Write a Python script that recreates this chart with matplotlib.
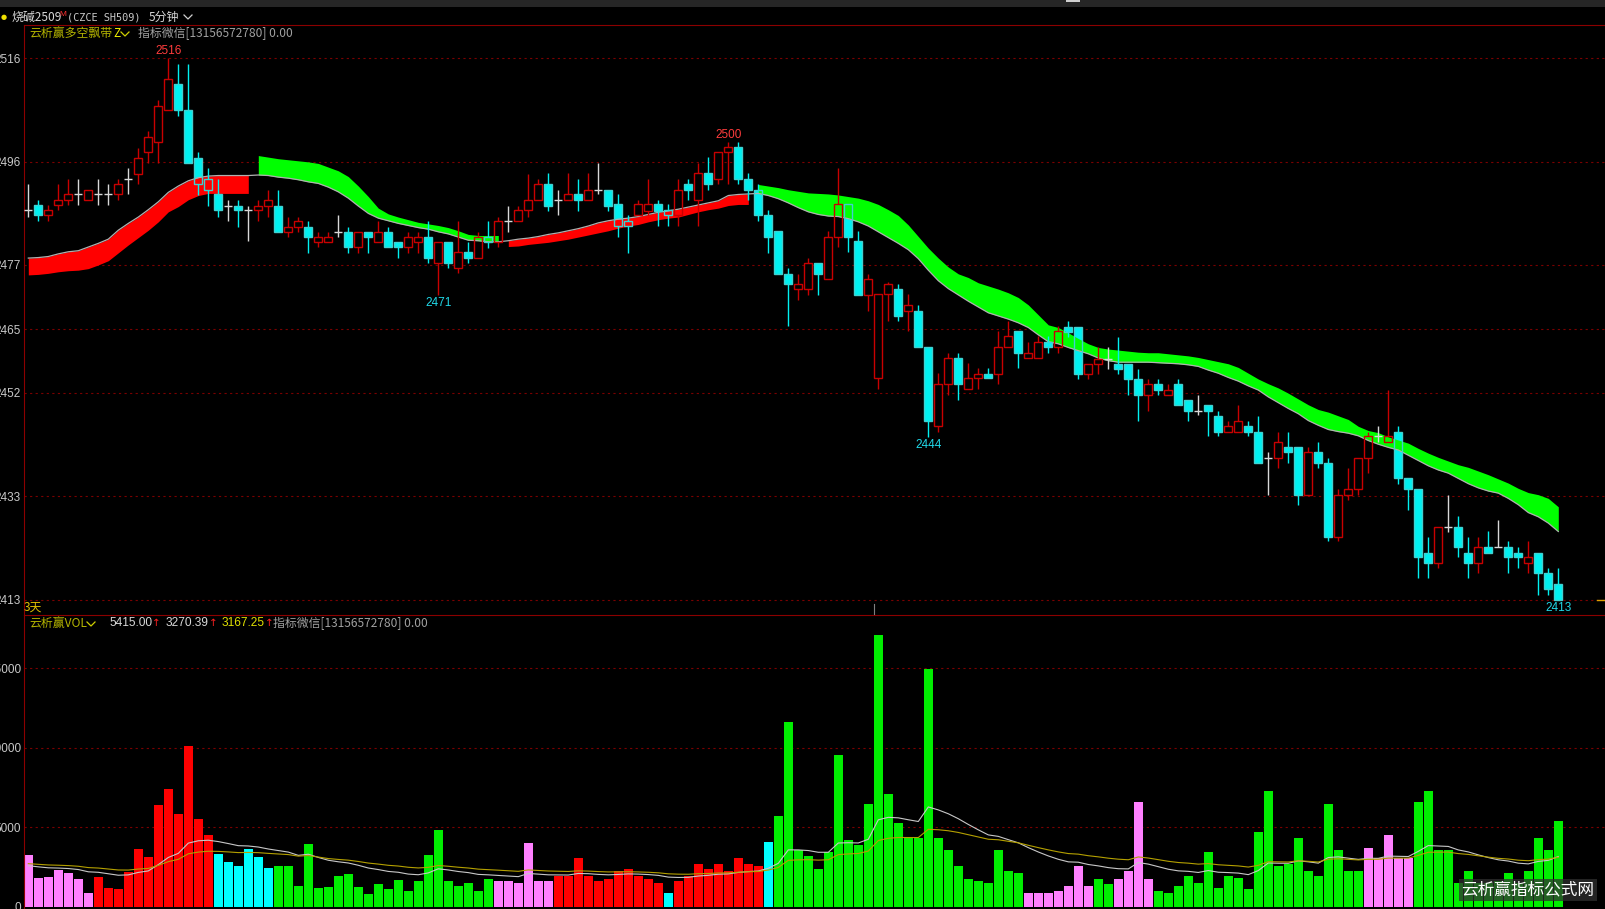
import matplotlib
matplotlib.use("Agg")
import matplotlib.pyplot as plt
from matplotlib.lines import Line2D
from matplotlib.patches import Rectangle
import numpy as np
import pandas as pd

# ---- data ----
opens = [2487.1, 2488.1, 2486.1, 2488.1, 2489.1, 2490.2, 2489.1, 2490.2, 2490.2, 2490.2,
         2493.0, 2494.0, 2498.1, 2500.0, 2506.1, 2511.1, 2506.1, 2497.1, 2493.0, 2490.2,
         2488.0, 2488.0, 2487.1, 2487.1, 2488.0, 2488.0, 2483.0, 2484.0, 2484.0, 2481.1,
         2481.1, 2483.0, 2483.0, 2480.1, 2483.0, 2481.1, 2483.0, 2481.1, 2480.1, 2481.1,
         2482.0, 2477.1, 2481.1, 2476.1, 2479.2, 2478.0, 2482.1, 2481.1, 2485.0, 2485.0,
         2487.1, 2489.1, 2492.1, 2489.1, 2489.1, 2490.2, 2489.1, 2491.0, 2491.0, 2488.2,
         2485.1, 2486.1, 2487.0, 2488.2, 2487.2, 2486.1, 2492.1, 2489.1, 2494.2, 2493.1,
         2498.2, 2499.1, 2493.1, 2491.0, 2486.1, 2483.1, 2475.0, 2472.1, 2472.1, 2477.1,
         2474.0, 2482.0, 2488.2, 2481.2, 2471.0, 2455.2, 2471.2, 2472.1, 2468.0, 2468.0,
         2461.1, 2446.1, 2454.1, 2459.0, 2453.1, 2455.2, 2456.0, 2456.0, 2461.1, 2464.1,
         2459.0, 2459.0, 2462.0, 2461.1, 2464.9, 2464.9, 2455.9, 2457.9, 2458.9, 2457.9,
         2457.9, 2455.0, 2451.9, 2454.0, 2451.9, 2454.0, 2451.0, 2449.0, 2450.0, 2447.9,
         2445.0, 2445.0, 2446.0, 2445.0, 2439.9, 2439.9, 2442.0, 2442.0, 2432.9, 2441.1,
         2439.0, 2425.0, 2432.9, 2434.0, 2439.9, 2444.1, 2443.1, 2445.0, 2436.1, 2434.0,
         2422.0, 2420.1, 2426.9, 2426.9, 2422.0, 2420.1, 2423.0, 2423.0, 2423.0, 2422.0,
         2420.1, 2422.0, 2418.1, 2416.0]
highs = [2492.0, 2489.1, 2488.1, 2492.0, 2493.0, 2493.0, 2491.0, 2493.0, 2492.0, 2493.0,
         2495.1, 2499.0, 2502.1, 2508.0, 2516.0, 2515.0, 2515.0, 2498.2, 2495.1, 2493.0,
         2489.1, 2489.1, 2488.0, 2489.1, 2491.0, 2491.0, 2485.9, 2485.9, 2485.0, 2483.0,
         2483.0, 2486.1, 2484.0, 2483.0, 2483.0, 2485.0, 2484.0, 2481.1, 2483.0, 2483.0,
         2485.0, 2481.1, 2481.1, 2485.0, 2481.1, 2483.0, 2485.1, 2485.9, 2488.0, 2488.0,
         2494.0, 2493.0, 2494.2, 2491.0, 2494.2, 2493.1, 2494.2, 2496.1, 2491.0, 2490.2,
         2486.1, 2489.1, 2493.1, 2489.1, 2488.2, 2493.1, 2493.1, 2496.1, 2497.3, 2498.2,
         2500.0, 2500.0, 2494.2, 2492.1, 2487.2, 2483.1, 2476.1, 2475.0, 2478.1, 2477.1,
         2483.1, 2495.2, 2488.2, 2483.1, 2475.0, 2471.2, 2473.5, 2473.1, 2471.2, 2469.0,
         2461.1, 2456.1, 2460.0, 2460.0, 2458.0, 2457.1, 2457.1, 2464.1, 2466.0, 2464.1,
         2462.1, 2463.1, 2463.1, 2465.0, 2466.0, 2464.9, 2457.9, 2461.1, 2461.1, 2463.0,
         2457.9, 2457.0, 2455.0, 2455.0, 2454.0, 2455.0, 2451.0, 2451.9, 2450.0, 2449.0,
         2447.1, 2450.0, 2447.1, 2447.9, 2441.1, 2445.0, 2445.0, 2442.0, 2442.0, 2443.1,
         2439.9, 2434.0, 2438.0, 2439.9, 2445.0, 2446.0, 2453.0, 2446.0, 2436.1, 2434.0,
         2425.0, 2426.9, 2432.9, 2429.0, 2425.0, 2425.0, 2426.1, 2428.2, 2424.1, 2423.0,
         2424.1, 2422.0, 2419.0, 2419.0]
lows = [2485.9, 2485.0, 2485.0, 2487.1, 2488.1, 2488.1, 2489.1, 2488.1, 2488.1, 2489.1,
        2490.2, 2492.0, 2496.0, 2496.0, 2506.1, 2505.0, 2496.0, 2490.0, 2488.0, 2485.9,
        2485.0, 2484.0, 2481.2, 2485.0, 2485.9, 2483.0, 2482.0, 2483.0, 2479.0, 2480.1,
        2481.1, 2482.0, 2479.0, 2479.0, 2479.0, 2481.1, 2480.1, 2478.0, 2479.0, 2479.0,
        2477.1, 2471.0, 2476.1, 2475.2, 2477.1, 2478.0, 2480.0, 2480.1, 2483.0, 2485.0,
        2485.9, 2489.1, 2487.0, 2486.1, 2489.1, 2487.0, 2489.1, 2490.1, 2487.0, 2482.0,
        2479.0, 2486.1, 2486.1, 2484.1, 2484.1, 2484.1, 2489.1, 2484.1, 2491.0, 2492.1,
        2492.1, 2492.1, 2489.1, 2485.1, 2479.0, 2475.0, 2465.0, 2470.1, 2471.0, 2471.0,
        2474.0, 2480.1, 2479.1, 2471.0, 2468.0, 2453.1, 2466.0, 2466.0, 2464.1, 2461.1,
        2444.0, 2445.0, 2452.0, 2451.0, 2453.1, 2453.1, 2455.2, 2454.1, 2461.1, 2457.1,
        2459.0, 2459.0, 2460.0, 2460.0, 2463.0, 2455.0, 2455.0, 2455.9, 2457.0, 2455.9,
        2451.9, 2447.1, 2449.0, 2451.9, 2451.9, 2450.0, 2447.1, 2448.1, 2444.1, 2444.1,
        2445.0, 2445.0, 2444.1, 2439.0, 2432.9, 2438.0, 2439.0, 2431.0, 2432.9, 2438.0,
        2424.1, 2424.1, 2432.0, 2432.9, 2437.1, 2443.1, 2443.1, 2435.1, 2430.1, 2417.1,
        2417.1, 2419.0, 2426.0, 2421.1, 2417.1, 2418.1, 2422.0, 2423.0, 2418.1, 2419.0,
        2418.1, 2413.9, 2413.9, 2413.0]
closes = [2487.1, 2486.1, 2487.1, 2489.1, 2490.2, 2490.2, 2491.0, 2490.2, 2490.2, 2492.0,
          2493.0, 2497.1, 2501.0, 2507.0, 2512.0, 2506.1, 2496.0, 2492.0, 2491.0, 2487.1,
          2488.0, 2487.1, 2487.1, 2488.0, 2489.1, 2483.0, 2484.0, 2485.0, 2482.0, 2482.0,
          2482.0, 2483.0, 2480.1, 2483.0, 2482.0, 2483.0, 2480.1, 2480.1, 2482.0, 2482.0,
          2478.0, 2481.1, 2477.1, 2479.2, 2478.0, 2482.0, 2481.1, 2485.0, 2485.0, 2487.1,
          2489.1, 2492.0, 2488.0, 2489.1, 2490.2, 2489.1, 2491.0, 2491.0, 2488.0, 2484.1,
          2484.1, 2488.2, 2488.2, 2487.0, 2486.1, 2491.0, 2491.0, 2494.2, 2492.1, 2498.2,
          2499.1, 2493.1, 2491.0, 2486.1, 2482.0, 2475.0, 2473.1, 2473.1, 2477.1, 2475.0,
          2482.0, 2488.2, 2482.0, 2471.0, 2474.0, 2471.2, 2473.1, 2467.0, 2469.0, 2461.1,
          2447.1, 2454.1, 2459.0, 2454.1, 2455.2, 2456.0, 2455.2, 2461.1, 2463.1, 2460.0,
          2460.0, 2462.0, 2461.1, 2464.1, 2464.0, 2455.9, 2457.9, 2458.9, 2458.9, 2457.0,
          2455.0, 2451.9, 2454.0, 2453.0, 2453.0, 2450.0, 2449.0, 2449.0, 2449.0, 2445.0,
          2446.0, 2447.1, 2445.0, 2439.0, 2439.9, 2443.1, 2441.1, 2432.9, 2441.1, 2439.0,
          2425.0, 2432.9, 2434.0, 2439.9, 2444.1, 2444.1, 2444.1, 2436.1, 2434.0, 2421.1,
          2420.1, 2426.9, 2426.9, 2423.0, 2420.1, 2423.0, 2422.0, 2423.0, 2421.1, 2421.1,
          2421.1, 2418.1, 2415.0, 2413.0]

# ribbon: grey centre line, outer edge, and state (r = long band, g = short band)
band_line = [2478.0, 2478.1, 2478.3, 2478.8, 2479.2, 2479.4, 2480.1, 2480.8, 2481.6, 2483.3,
             2484.6, 2485.8, 2487.2, 2488.7, 2490.5, 2491.7, 2492.7, 2493.3, 2493.6, 2493.7,
             2493.7, 2493.7, 2493.7, 2493.8, 2493.7, 2493.4, 2493.2, 2492.9, 2492.5, 2492.2,
             2491.5, 2490.6, 2489.4, 2487.9, 2486.5, 2485.6, 2485.1, 2484.6, 2484.2, 2483.8,
             2483.5, 2483.0, 2482.6, 2482.0, 2481.4, 2481.3, 2481.1, 2481.1, 2481.3, 2481.6,
             2481.8, 2482.1, 2482.5, 2482.8, 2483.2, 2483.6, 2484.1, 2484.7, 2485.1, 2485.4,
             2485.6, 2485.9, 2486.3, 2486.7, 2487.0, 2487.3, 2487.7, 2488.1, 2488.5, 2488.9,
             2489.9, 2490.1, 2490.2, 2490.3, 2489.9, 2489.3, 2488.5, 2487.6, 2486.8, 2486.3,
             2486.0, 2485.9, 2485.5, 2484.9, 2484.1, 2483.0, 2481.9, 2480.8, 2479.6, 2477.9,
             2475.7, 2473.7, 2472.2, 2471.0, 2469.8, 2468.7, 2467.6, 2467.0, 2466.4, 2465.7,
             2464.8, 2463.4, 2462.1, 2461.7, 2461.0, 2460.4, 2459.8, 2459.0, 2458.5, 2458.2,
             2458.2, 2458.2, 2458.2, 2458.1, 2458.0, 2457.9, 2457.7, 2457.4, 2456.7, 2456.1,
             2455.3, 2454.6, 2453.7, 2452.9, 2451.6, 2450.5, 2449.4, 2448.4, 2447.1, 2446.2,
             2445.4, 2445.0, 2444.7, 2444.2, 2443.3, 2442.6, 2442.0, 2441.5, 2440.5, 2439.5,
             2438.5, 2437.7, 2437.1, 2436.1, 2435.1, 2434.3, 2433.7, 2433.3, 2432.3, 2431.1,
             2429.6, 2428.8, 2427.6, 2426.0]
band_edge = [2474.8, 2474.9, 2475.1, 2475.4, 2475.6, 2475.7, 2476.0, 2476.7, 2477.5, 2479.0,
             2480.5, 2481.9, 2483.3, 2484.9, 2486.8, 2487.8, 2489.1, 2489.9, 2490.3, 2490.3,
             2490.3, 2490.3, 2490.3, 2497.5, 2497.2, 2496.9, 2496.7, 2496.5, 2496.3, 2496.0,
             2495.3, 2494.6, 2493.5, 2491.7, 2489.7, 2487.5, 2486.4, 2485.8, 2485.3, 2484.8,
             2484.5, 2484.2, 2483.8, 2483.2, 2482.5, 2482.3, 2482.3, 2482.3, 2480.2, 2480.3,
             2480.6, 2480.8, 2481.0, 2481.3, 2481.6, 2482.0, 2482.4, 2482.8, 2483.2, 2483.7,
             2484.1, 2484.4, 2484.9, 2485.3, 2485.6, 2485.8, 2486.3, 2486.8, 2487.2, 2487.5,
             2488.0, 2488.2, 2488.2, 2492.0, 2491.7, 2491.4, 2491.0, 2490.7, 2490.4, 2490.3,
             2490.2, 2490.0, 2489.7, 2489.4, 2488.9, 2488.2, 2487.2, 2486.1, 2484.3, 2482.1,
             2479.9, 2478.0, 2476.3, 2475.0, 2474.3, 2473.3, 2472.7, 2472.1, 2471.4, 2470.5,
             2469.1, 2467.2, 2465.3, 2464.8, 2463.8, 2462.7, 2461.7, 2461.0, 2460.7, 2460.5,
             2460.3, 2460.1, 2460.0, 2460.0, 2459.8, 2459.6, 2459.4, 2459.1, 2458.7, 2458.3,
             2457.9, 2457.2, 2456.1, 2455.0, 2454.1, 2453.3, 2452.3, 2451.2, 2450.1, 2449.2,
             2448.7, 2448.0, 2447.3, 2446.0, 2445.2, 2444.8, 2444.0, 2443.4, 2442.8, 2441.8,
             2440.9, 2440.1, 2439.4, 2438.7, 2438.2, 2437.5, 2436.8, 2436.0, 2435.2, 2434.2,
             2433.4, 2433.0, 2432.3, 2430.7]
band_state = "r" * 23 + "g" * 25 + "r" * 25 + "g" * 81

volumes = [3229, 1824, 1866, 2286, 2118, 1740, 839, 1866, 1195, 1111,
           2202, 3628, 3146, 6396, 7381, 5809, 10129, 5536, 4509, 3292,
           2789, 2579, 3628, 3125, 2454, 2579, 2537, 1279, 3963, 1195,
           1237, 1908, 2034, 1237, 797, 1405, 1111, 1657, 968, 1613,
           3225, 4838, 1613, 1290, 1484, 968, 1742, 1613, 1613, 1484,
           3999, 1613, 1613, 1935, 1935, 3032, 1935, 1613, 1742, 2258,
           2387, 1935, 1742, 1484, 839, 1613, 1935, 2709, 2387, 2709,
           2258, 3032, 2709, 2580, 4064, 5676, 11610, 3548, 3161, 2387,
           3419, 9546, 4193, 3870, 6450, 17093, 7095, 5289, 4322, 4322,
           14964, 4322, 3548, 2580, 1742, 1613, 1484, 3548, 2258, 2129,
           839, 839, 839, 968, 1290, 2580, 1290, 1742, 1419, 1742,
           2258, 6579, 1742, 968, 839, 1290, 1935, 1484, 3419, 1161,
           1935, 1806, 1097, 4709, 7289, 2580, 2709, 4322, 2258, 1935,
           6450, 3548, 2258, 2258, 3677, 3032, 4515, 3032, 3032, 6579,
           7289, 3548, 3548, 1484, 2258, 1484, 1484, 1613, 2129, 1484,
           2258, 4322, 3548, 5415]
vol_colors = ("p" * 7 + "r" * 12 + "c" * 6 + "g" * 22 + "p" * 6 + "r" * 11 + "c" + "r" * 9
              + "c" + "g" * 25 + "p" * 7 + "g" * 2 + "p" * 4 + "g" * 21 + "p" * 5 + "g" * 15)
# volume averages (EMA 20 / EMA 40), starting from the levels seen at the left edge
ma_spans = [20, 40]
ma_seeds = [2510, 2680]

price_ticks = [2516, 2496.3, 2476.7, 2464.5, 2452.4, 2432.7, 2413]
price_labels = ["2516", "2496", "2477", "2465", "2452", "2433", "2413"]
vol_ticks = [0, 5000, 10000, 15000]
vol_labels = ["0", "5000", "10000", "15000"]
high_marks = [14, 70]
low_marks = [41, 90, 153]

# ---- colours ----
BG = "black"
FRAME = "#8c0000"
GRID = "#7a0000"
UP = "#c80000"
DOWN = "#00f0f0"
DOWN_EDGE = "#40d0d0"
DOJI = "#d8d8d8"
BAND_R = "#ff0000"
BAND_G = "#00ff00"
VOL_C = {"p": "#ff80ff", "r": "#ff0000", "c": "#00ffff", "g": "#00ee00"}
CJK = ["Noto Sans CJK SC", "DejaVu Sans"]
NUM = ["Liberation Sans", "DejaVu Sans"]

W, H = 1605, 909


def fx(x):
    return x / W


def fy(y):
    return 1 - y / H


fig = plt.figure(figsize=(W / 100, H / 100), dpi=100, facecolor=BG)

# price panel spans y 25..615 px, volume panel 615..909 px
ax = fig.add_axes([fx(23.5), fy(615), 1 - fx(23.5), (615 - 25) / H], facecolor=BG)
axv = fig.add_axes([fx(23.5), 0, 1 - fx(23.5), (909 - 615) / H], facecolor=BG)

n = len(opens)
idx = np.arange(n)
o = np.array(opens)
c = np.array(closes)
hi = np.array(highs)
lo = np.array(lows)
body_lo = np.minimum(o, c)
body_hi = np.maximum(o, c)
edge_cols = [UP if cc > oo else (DOWN_EDGE if cc < oo else DOJI) for oo, cc in zip(o, c)]
wick_cols = [UP if cc > oo else (DOWN if cc < oo else DOJI) for oo, cc in zip(o, c)]
fill_cols = [DOWN if cc < oo else BG for oo, cc in zip(o, c)]

ax.bar(idx, body_hi - body_lo, bottom=body_lo, width=0.82, color=fill_cols, linewidth=0, zorder=2)

# ribbon
bl = np.array(band_line)
be = np.array(band_edge)
start = 0
for i in range(1, n + 1):
    if i == n or band_state[i] != band_state[start]:
        seg = slice(start, i)
        col = BAND_R if band_state[start] == "r" else BAND_G
        ax.fill_between(idx[seg], bl[seg], be[seg], color=col, linewidth=0, zorder=3)
        start = i
ax.plot(idx, bl, color="#b0b0b0", lw=0.9, zorder=3.5)

ax.bar(idx, body_hi - body_lo, bottom=body_lo, width=0.82, facecolor="none",
       edgecolor=edge_cols, linewidth=1.0, zorder=4)
ax.vlines(idx, body_hi, hi, colors=wick_cols, lw=1.0, zorder=4)
ax.vlines(idx, lo, body_lo, colors=wick_cols, lw=1.0, zorder=4)

for i in high_marks:
    ax.annotate(f"{highs[i]:.0f}", (i, highs[i]), xytext=(0, 5.4), textcoords="offset points",
                ha="center", va="center", color="#ff3c3c", fontsize=8.5, family=NUM, zorder=6)
for i in low_marks:
    ax.annotate(f"{lows[i]:.0f}", (i, lows[i]), xytext=(0, -5.6), textcoords="offset points",
                ha="center", va="center", color="#20d8e8", fontsize=8.5, family=NUM, zorder=6)

# price axis: 25px -> 2522.33, 615px -> 2410.12
ax.set_ylim(2410.12, 2522.33)
ax.set_xlim(-0.48, 157.67)
ax.set_yticks(price_ticks)
ax.set_yticklabels(price_labels)
for t in price_ticks:
    ax.axhline(t, color=GRID, lw=0.8, ls=(0, (2, 3)), zorder=1)

# volume panel
vol = np.array(volumes, dtype=float)
axv.bar(idx, vol, width=0.88, color=[VOL_C[k] for k in vol_colors], linewidth=0, zorder=2)
ma_cols = ["#c8c8c8", "#b4a000"]
for span, seed, col in zip(ma_spans, ma_seeds, ma_cols):
    ma = pd.Series([seed] + volumes, dtype=float).ewm(span=span, adjust=False).mean().values[1:]
    axv.plot(idx, ma, color=col, lw=0.8, zorder=3)
axv.set_xlim(-0.48, 157.67)
axv.set_ylim(-145, 18348)
axv.set_yticks(vol_ticks)
axv.set_yticklabels(vol_labels)
for t in vol_ticks[1:]:
    axv.axhline(t, color=GRID, lw=0.8, ls=(0, (2, 3)), zorder=1)

for a in (ax, axv):
    a.set_xticks([])
    for s in ("right", "bottom"):
        a.spines[s].set_visible(False)
    a.spines["left"].set_color(FRAME)
    a.spines["top"].set_color(FRAME)
    a.spines["left"].set_linewidth(0.8)
    a.spines["top"].set_linewidth(0.8)
    a.tick_params(axis="y", length=0, pad=1.8, labelcolor="#c8c8c8", labelsize=8.5)
    for lab in a.get_yticklabels():
        lab.set_family(NUM)

# small marks: day separator and last-price tick
fig.add_artist(Line2D([fx(874), fx(874)], [fy(604), fy(614)], color="#808080", lw=0.8))
fig.add_artist(Line2D([fx(1597), fx(1605)], [fy(600), fy(600)], color="#e0a000", lw=1))

# title bar
fig.add_artist(Rectangle((0, fy(7)), 1, 7 / H, color="#262626", lw=0))
fig.add_artist(Rectangle((fx(1066), fy(2)), 14 / W, 2 / H, color="#d0d0d0", lw=0))
fig.text(fx(1), fy(16.5), "●", color="#f0e000", fontsize=5, va="center", family=["DejaVu Sans"])
fig.text(fx(11.5), fy(17), "烧碱2509", color="#d8d8d8", fontsize=8.6, va="center", family=CJK)
fig.text(fx(59), fy(14), "M", color="#ff3030", fontsize=6, va="center", family=NUM)
fig.text(fx(67), fy(17), "(CZCE SH509)", color="#c8c8c8", fontsize=7.4, va="center",
         family=["DejaVu Sans Mono"])
fig.text(fx(149), fy(17), "5分钟", color="#d8d8d8", fontsize=8.6, va="center", family=CJK)


def chevron(x, y, col):
    fig.add_artist(Line2D([fx(x), fx(x + 4), fx(x + 8)], [fy(y - 2), fy(y + 2), fy(y - 2)],
                          color=col, lw=0.9))


chevron(184, 17, "#d0d0d0")

# indicator headers
fig.text(fx(29), fy(33.5), "云析赢多空飘带", color="#b4b400", fontsize=8.6, va="center", family=CJK)
fig.text(fx(113), fy(33.5), "Z", color="#f0f000", fontsize=8.6, va="center", family=CJK)
chevron(121, 34, "#d0d000")
fig.text(fx(138), fy(33.5), "指标微信[13156572780] 0.00", color="#a0a0a0", fontsize=8.6,
         va="center", family=CJK)
fig.text(fx(23.5), fy(607), "3天", color="#e0c000", fontsize=8.6, va="center", family=CJK)

fig.text(fx(29), fy(623.5), "云析赢VOL", color="#b4b400", fontsize=8.6, va="center", family=CJK)
chevron(87, 624, "#d0d000")
vol_head = [(109, "5415.00", "#d8d8d8"), (166, "3270.39", "#d8d8d8"), (222, "3167.25", "#e0e000")]
for x, s, col in vol_head:
    fig.text(fx(x), fy(623.5), s, color=col, fontsize=8.6, va="center", family=NUM)
    fig.text(fx(x + 43), fy(623.5), "↑", color="#ff2020", fontsize=7.5, va="center",
             family=["DejaVu Sans"])
fig.text(fx(273), fy(623.5), "指标微信[13156572780] 0.00", color="#a0a0a0", fontsize=8.6,
         va="center", family=CJK)

# watermark
fig.text(fx(1528), fy(890), "云析赢指标公式网", color="white", fontsize=12, ha="center",
         va="center", family=CJK,
         bbox=dict(boxstyle="square,pad=0.15", facecolor="#303030", edgecolor="none", alpha=0.75))

fig.savefig("out.png", dpi=100, facecolor=BG)
